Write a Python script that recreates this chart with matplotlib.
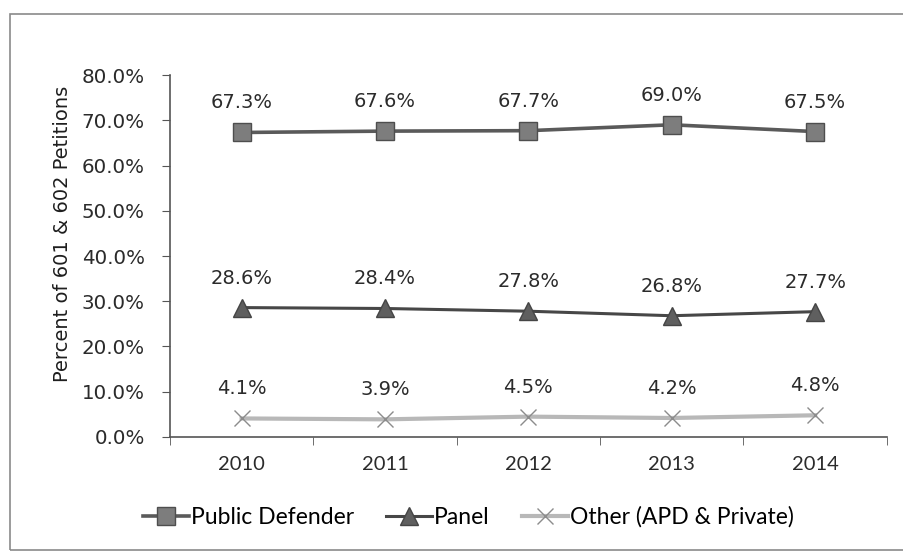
import numpy as np
import matplotlib.pyplot as plt
from matplotlib.patches import Rectangle
from matplotlib.ticker import FixedLocator, NullFormatter

years = ['2010', '2011', '2012', '2013', '2014']
public_defender = [67.3, 67.6, 67.7, 69.0, 67.5]
panel = [28.6, 28.4, 27.8, 26.8, 27.7]
other = [4.1, 3.9, 4.5, 4.2, 4.8]

x = np.arange(len(years))

fig = plt.figure(figsize=(9.04, 5.54), dpi=100)
ax = fig.add_axes([0.188, 0.2112, 0.793, 0.6534])

# outer chart border
fig.patches.append(Rectangle((0.011, 0.008), 1.2, 0.967, transform=fig.transFigure,
                             fill=False, edgecolor='#8a8a8a', linewidth=1.2))

series = [
    (public_defender, 'Public Defender', dict(color='#5a5a5a', lw=2.6, marker='s', ms=12.5,
                                              mfc='#7d7d7d', mec='#4e4e4e', mew=1.0)),
    (panel, 'Panel', dict(color='#474747', lw=2.2, marker='^', ms=13.5,
                          mfc='#5f5f5f', mec='#454545', mew=1.0)),
    (other, 'Other (APD & Private)', dict(color='#b8b8b8', lw=3.0, marker='x', ms=12,
                                          mec='#8c8c8c', mew=1.0)),
]

for vals, name, style in series:
    ax.plot(x, vals, label=name, **style)
    for xi, v in zip(x, vals):
        ax.annotate(f'{v:.1f}%', (xi, v), xytext=(0, 20), textcoords='offset pixels',
                    ha='center', va='bottom', fontsize=14, color='#2b2b2b',
                    family='DejaVu Sans')

ax.set_xlim(-0.5, 4.5)
ax.set_ylim(0, 80)
ax.set_yticks(np.arange(0, 81, 10))
ax.set_yticklabels([f'{t:.1f}%' for t in np.arange(0, 81, 10)], fontsize=14.3,
                   color='#2b2b2b', family='DejaVu Sans')

# category labels centered, tick marks between categories
ax.set_xticks(x)
ax.set_xticklabels(years, fontsize=14.5, color='#2b2b2b', family='Lato')
ax.tick_params(axis='x', length=0, pad=14)
ax.xaxis.set_minor_locator(FixedLocator(np.arange(-0.5, 5, 1)))
ax.xaxis.set_minor_formatter(NullFormatter())
ax.tick_params(axis='x', which='minor', length=6, direction='out', color='#555555')
ax.tick_params(axis='y', length=6, direction='out', color='#555555', pad=12)

for side in ['top', 'right']:
    ax.spines[side].set_visible(False)
for side in ['left', 'bottom']:
    ax.spines[side].set_color('#555555')
    ax.spines[side].set_linewidth(1.2)

ax.set_ylabel('Percent of 601 & 602 Petitions', fontsize=14, color='#1e1e1e',
              family='DejaVu Sans')
ax.yaxis.set_label_coords(-0.136, 0.56)

fig.legend(loc='center', bbox_to_anchor=(0.518, 0.067), ncol=3, frameon=False,
           prop={'family': 'Lato', 'size': 16.5}, handlelength=2.0, handletextpad=0.1,
           columnspacing=1.4)

fig.savefig('out.png', dpi=100)
